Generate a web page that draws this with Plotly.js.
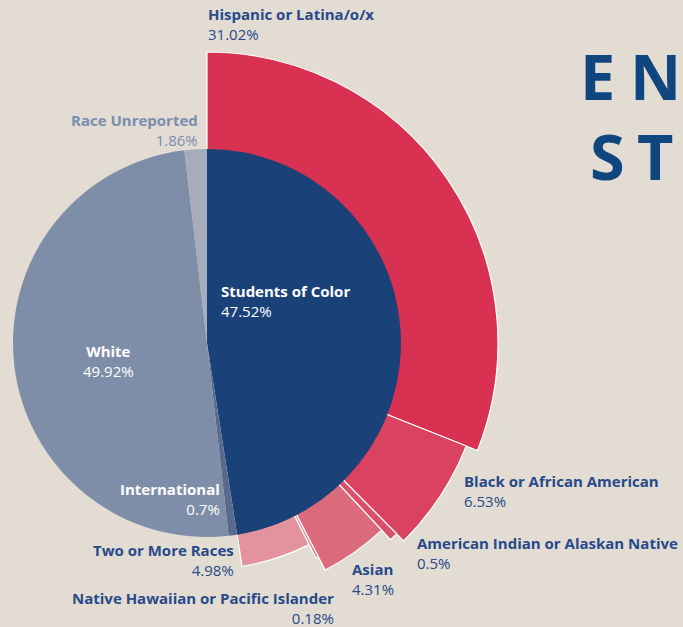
<!DOCTYPE html>
<html>
<head>
<meta charset="utf-8">
<script src="https://cdn.plot.ly/plotly-3.0.1.min.js"></script>
<style>
html,body{margin:0;padding:0;width:683px;height:627px;overflow:hidden;background:#e2dcd2;}
#chart{position:absolute;left:-193px;top:-57px;width:1000px;height:800px;}
</style>
</head>
<body>
<div id="chart"></div>
<script>
// ---- data ----
var groupNames = ['Students of Color', 'International', 'White', 'Race Unreported'];
var groupPct = [47.52, 0.7, 49.92, 1.86];
var subNames = ['Hispanic or Latina/o/x', 'Black or African American', 'American Indian or Alaskan Native', 'Asian', 'Native Hawaiian or Pacific Islander', 'Two or More Races'];
var subPct = [31.02, 6.53, 0.5, 4.31, 0.18, 4.98];

// ---- style ----
var groupColors = ['#1b4179', '#586b8f', '#7f8ea8', '#a5acbb'];
var subColors = ['#d93152', '#d94360', '#da4f69', '#dc6a7d', '#e07f8e', '#e4939e'];
var innerR = 194;
var subOuterR = [291, 279, 269, 256, 241, 226];

function thetas(p) {
  var out = [], c = 0;
  for (var i = 0; i < p.length; i++) { out.push((c + p[i] / 2) * 3.6); c += p[i]; }
  return out;
}
function widths(p) { return p.map(function (v) { return v * 3.6; }); }

var outer = {
  type: 'barpolar',
  r: subOuterR,
  theta: thetas(subPct),
  width: widths(subPct),
  text: subNames,
  marker: { color: subColors, line: { color: '#ffffff', width: 1.2 } },
  hoverinfo: 'text',
  showlegend: false
};
var inner = {
  type: 'barpolar',
  r: groupPct.map(function () { return innerR; }),
  theta: thetas(groupPct),
  width: widths(groupPct),
  text: groupNames,
  marker: { color: groupColors, line: { width: 0 } },
  hoverinfo: 'text',
  showlegend: false
};

// page pixel -> paper coords of the (offset) plot div
var DW = 1000, DH = 800, OX = 193, OY = 57;
function PX(x) { return (x + OX) / DW; }
function PY(y) { return 1 - (y + OY) / DH; }

var blue = '#28498a';
var F = 'Open Sans, sans-serif';
function lab(name, pct, x, y, anchor, color, align) {
  return {
    xref: 'paper', yref: 'paper', x: PX(x), y: PY(y),
    xanchor: anchor, yanchor: 'middle', align: align || anchor,
    text: '<b>' + name + '</b><br>' + pct + '%',
    showarrow: false,
    font: { family: F, size: 15, color: color }
  };
}
function big(ch, x, y) {
  return {
    xref: 'paper', yref: 'paper', x: PX(x), y: PY(y), xanchor: 'left', yanchor: 'middle',
    text: '<b>' + ch + '</b>', showarrow: false,
    font: { family: F, size: 63, color: '#0f4680' }
  };
}
var ann = [
  lab(subNames[0], subPct[0], 206, 24, 'left', blue),
  lab(groupNames[3], groupPct[3], 200, 130, 'right', '#7b8db0'),
  lab(groupNames[0], groupPct[0], 219, 301, 'left', '#ffffff'),
  lab(groupNames[2], groupPct[2], 108, 361, 'center', '#ffffff'),
  lab(groupNames[1], groupPct[1], 222, 499, 'right', '#ffffff'),
  lab(subNames[5], subPct[5], 236, 560, 'right', blue),
  lab(subNames[4], subPct[4], 336, 608, 'right', blue),
  lab(subNames[3], subPct[3], 350, 579, 'left', blue),
  lab(subNames[2], subPct[2], 415, 553, 'left', blue),
  lab(subNames[1], subPct[1], 462, 491, 'left', blue),
  big('E', 578, 75),
  big('N', 628, 75),
  big('S', 588, 155),
  big('T', 635, 155)
];

var layout = {
  width: DW, height: DH,
  margin: { l: 0, r: 0, t: 0, b: 0 },
  paper_bgcolor: '#e2dcd2',
  plot_bgcolor: '#e2dcd2',
  showlegend: false,
  polar: {
    domain: { x: [(OX + 207 - 300) / DW, (OX + 207 + 300) / DW], y: [1 - (OY + 343 + 300) / DH, 1 - (OY + 343 - 300) / DH] },
    bgcolor: 'rgba(0,0,0,0)',
    bargap: 0,
    hole: 0,
    radialaxis: { range: [0, 300], visible: false },
    angularaxis: { rotation: 90, direction: 'clockwise', visible: false, thetaunit: 'degrees' }
  },
  annotations: ann
};

Plotly.newPlot('chart', [outer, inner], layout, { displayModeBar: false, staticPlot: true });
</script>
</body>
</html>
